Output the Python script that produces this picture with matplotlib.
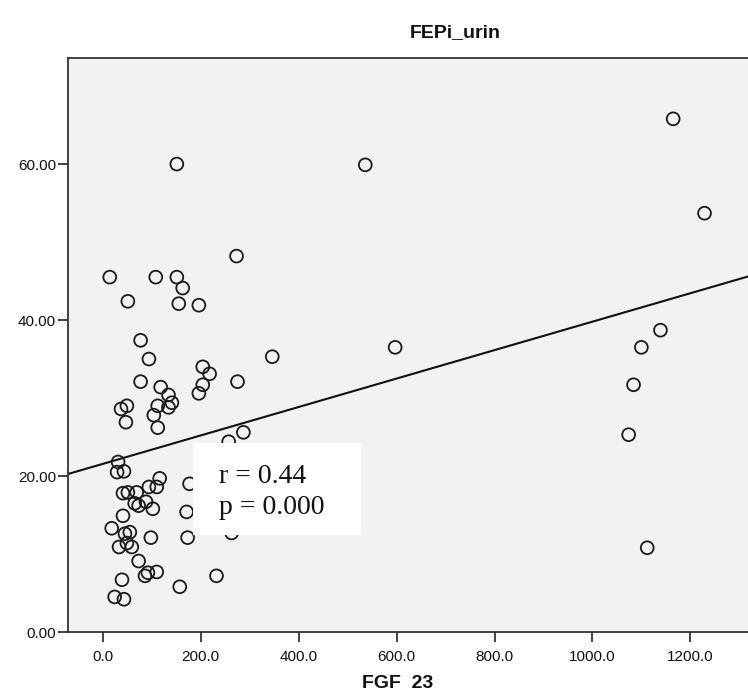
import matplotlib
matplotlib.use('Agg')
import matplotlib.pyplot as plt
from matplotlib.patches import Rectangle
import numpy as np

# ── Data ────────────────────────────────────────────────────────────────────
fgf23 = [14, 108, 151, 163, 51, 155, 196, 77, 94, 346,
         204, 218, 204, 196, 275, 77, 118, 134, 141, 134,
         112, 104, 112, 49, 37, 47, 287, 257, 31, 29,
         43, 116, 177, 41, 51, 69, 94, 110, 65, 73,
         88, 102, 171, 41, 18, 45, 55, 33, 49, 59,
         98, 173, 263, 73, 86, 92, 110, 39, 232, 157,
         24, 43, 151, 536, 273, 597, 1165, 1229, 1139, 1100,
         1084, 1074, 1112]
fepi_urin = [45.5, 45.5, 45.5, 44.1, 42.4, 42.1, 41.9, 37.4, 35.0, 35.3,
             34.0, 33.1, 31.7, 30.6, 32.1, 32.1, 31.4, 30.4, 29.4, 28.8,
             29.0, 27.8, 26.2, 29.0, 28.6, 26.9, 25.6, 24.4, 21.8, 20.5,
             20.6, 19.7, 19.0, 17.8, 17.9, 17.9, 18.6, 18.6, 16.5, 16.2,
             16.7, 15.8, 15.4, 14.9, 13.3, 12.6, 12.8, 10.9, 11.4, 10.9,
             12.1, 12.1, 12.7, 9.1, 7.2, 7.6, 7.7, 6.7, 7.2, 5.8,
             4.5, 4.2, 60.0, 59.9, 48.2, 36.5, 65.8, 53.7, 38.7, 36.5,
             31.7, 25.3, 10.8]

# fit line as drawn (SPSS linear fit)
fit_intercept = 21.56
fit_slope = 0.01823

x_ticks = [0, 200, 400, 600, 800, 1000, 1200]
y_ticks = [0, 20, 40, 60]
stats_lines = ['r = 0.44', 'p = 0.000']

fig = plt.figure(figsize=(7.48, 6.95), dpi=100)
fig.patch.set_facecolor('white')
ax = fig.add_axes([68 / 748, 1 - 632 / 695, (752 - 68) / 748, (632 - 58) / 695])
ax.set_facecolor('#F2F2F2')

xmin, xmax = -71.3, 1326
ax.set_xlim(xmin, xmax)
ax.set_ylim(0, 73.6)

ax.scatter(fgf23, fepi_urin, s=85, facecolors='none', edgecolors='#1a1a1a',
           linewidths=1.3, zorder=3)

xs = np.array([xmin, xmax])
ax.plot(xs, fit_intercept + fit_slope * xs, color='#111111', lw=1.5, zorder=2)

# white annotation box
ax.add_patch(Rectangle((183.4, 12.4), 344, 11.8, facecolor='white',
                       edgecolor='none', zorder=4))
ax.text(238, 19.9, stats_lines[0], fontsize=20, family='Liberation Serif',
        va='center', ha='left', color='#111111', zorder=5)
ax.text(238, 15.9, stats_lines[1], fontsize=20, family='Liberation Serif',
        va='center', ha='left', color='#111111', zorder=5)

tick_font = ['Liberation Sans Narrow', 'Liberation Sans']
ax.set_xticks(x_ticks)
ax.set_xticklabels([f'{v:.1f}' for v in x_ticks], family=tick_font, fontsize=11)
ax.set_yticks(y_ticks)
ax.set_yticklabels([f'{v:.2f}' for v in y_ticks], family=tick_font, fontsize=11)
ax.tick_params(axis='both', direction='out', length=7, width=1.2, color='#222222',
               labelcolor='#111111')
ax.tick_params(axis='x', pad=6)
ax.tick_params(axis='y', pad=1.5)

for sp in ax.spines.values():
    sp.set_color('#333333')
    sp.set_linewidth(1.3)

fig.text(455 / 748, 1 - 33 / 695, 'FEPi_urin', ha='center', va='center',
         fontsize=14, fontweight='bold', family=tick_font, color='#111111')
fig.text(398 / 748, 1 - 683 / 695, 'FGF  23', ha='center', va='center',
         fontsize=14, fontweight='bold', family=tick_font, color='#111111')

fig.savefig('out.png', dpi=100, facecolor='white')
